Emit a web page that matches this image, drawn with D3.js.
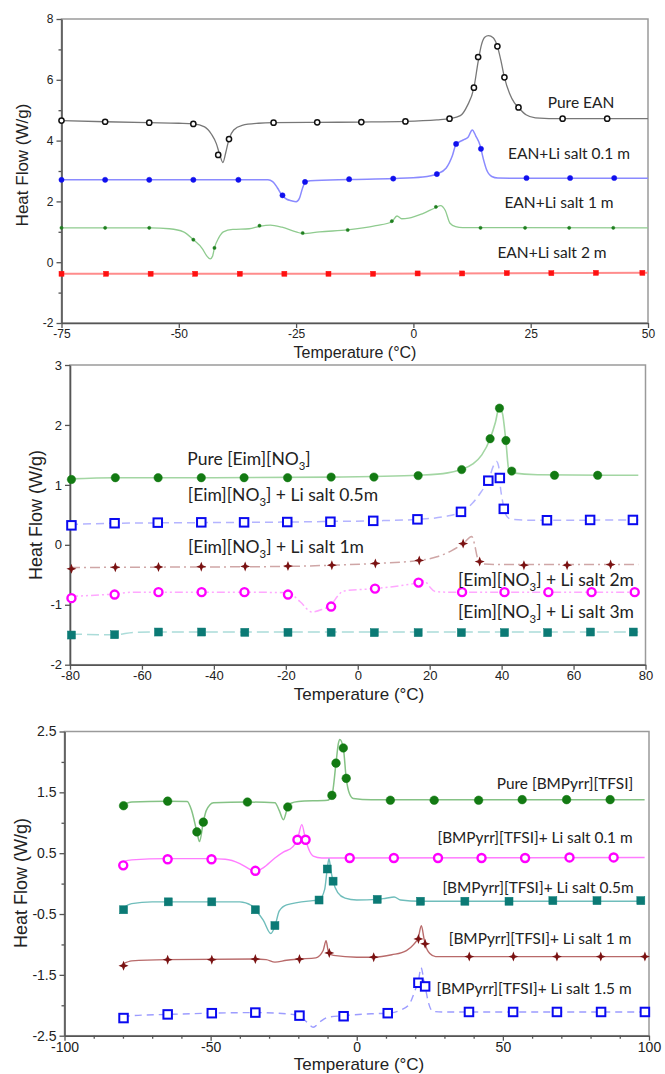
<!DOCTYPE html>
<html>
<head>
<meta charset="utf-8">
<script src="https://cdn.jsdelivr.net/npm/d3@7"></script>
<style>
  body { margin: 0; background: #fff; }
  svg { display: block; }
</style>
</head>
<body>
<script>
// ---------- panel 1 : EAN ----------
const eanPureLine = [[-75,4.66],[-65.7,4.62],[-56.3,4.59],[-50,4.57],[-46.9,4.55],[-44.5,4.45],[-43,4.2],[-42,3.9],[-41.3,3.55],[-40.6,3.28],[-40.0,3.6],[-39.3,4.05],[-38.3,4.35],[-36.5,4.5],[-33,4.57],[-29.8,4.59],[-20.5,4.6],[-11.1,4.61],[-1.7,4.63],[5,4.68],[7.7,4.72],[10,4.82],[11.5,5.15],[12.9,5.74],[13.8,6.6],[14.5,7.15],[15.2,7.4],[16.0,7.45],[17,7.38],[17.9,7.1],[18.7,6.6],[19.4,6.08],[20.5,5.55],[21.5,5.25],[22.4,5.09],[24,4.85],[26,4.75],[31.8,4.72],[50,4.72]]
const eanPureMarks = [[-75,4.66],[-65.7,4.62],[-56.3,4.59],[-46.9,4.55],[-41.6,3.53],[-39.3,4.05],[-29.8,4.59],[-20.5,4.6],[-11.1,4.61],[-1.7,4.63],[7.7,4.72],[12.9,5.74],[13.8,6.75],[17.9,7.1],[19.4,6.08],[22.4,5.09],[31.8,4.72],[41.3,4.72]]
const ean01Line = [[-75,2.71],[-50,2.71],[-31,2.71],[-30,2.65],[-29,2.45],[-28,2.2],[-27,2.07],[-26,2.02],[-25,1.99],[-24.3,2.1],[-23.6,2.45],[-23.1,2.62],[-22,2.68],[-13.7,2.72],[-4.3,2.75],[2,2.8],[5,2.9],[7,3.1],[8.3,3.5],[9.1,3.88],[10.6,4.02],[11.6,4.1],[12.55,4.35],[13.3,4.15],[14.2,3.85],[14.9,3.4],[15.6,3.04],[16.7,2.82],[18,2.77],[24.1,2.76],[50,2.76]]
const ean01Marks = [[-75,2.71],[-65.7,2.71],[-56.3,2.71],[-46.9,2.71],[-37.3,2.71],[-27.9,2.2],[-23.1,2.64],[-13.7,2.73],[-4.3,2.75],[5.0,2.9],[9.1,3.89],[14.4,3.73],[24.1,2.77],[33.4,2.77],[42.8,2.77]]
const ean1Line = [[-75,1.13],[-56,1.13],[-52,1.1],[-49,1.0],[-46.9,0.74],[-45,0.45],[-44,0.2],[-43.3,0.11],[-42.8,0.2],[-42.4,0.47],[-41.5,0.8],[-40.5,1.0],[-38.5,1.08],[-35,1.1],[-32.8,1.18],[-30.5,1.22],[-28,1.15],[-25,1.0],[-23.6,0.94],[-20,1.0],[-14,1.06],[-8,1.2],[-4.6,1.33],[-3.5,1.52],[-2.5,1.43],[-1,1.45],[2,1.6],[4.8,1.8],[5.8,1.86],[6.8,1.7],[7.8,1.28],[9,1.17],[10.5,1.14],[50,1.13]]
const ean1Marks = [[-75,1.13],[-65.7,1.13],[-56.3,1.13],[-46.9,0.74],[-42.4,0.47],[-32.8,1.2],[-23.6,0.96],[-14.0,1.06],[-4.6,1.35],[4.8,1.82],[14.3,1.13],[23.8,1.13],[33.2,1.13],[42.6,1.13]]
const ean2Line = [[-75,-0.38],[-10,-0.38],[50,-0.35]]
const ean2Marks = [[-75,-0.38],[-65.5,-0.38],[-56.0,-0.38],[-46.5,-0.38],[-37.0,-0.38],[-27.5,-0.38],[-18.1,-0.38],[-8.6,-0.38],[0.9,-0.37],[10.4,-0.37],[19.9,-0.36],[29.4,-0.36],[38.9,-0.35],[48.8,-0.35]]
const eanLabels = ["Pure EAN", "EAN+Li salt 0.1 m", "EAN+Li salt 1 m", "EAN+Li salt 2 m"]

// ---------- panel 2 : [Eim][NO3] ----------
const eimPureLine = [[-80,1.1],[-67.4,1.12],[-40,1.12],[-7.4,1.13],[4.5,1.14],[16.8,1.16],[25,1.2],[28.9,1.26],[32,1.35],[34.5,1.5],[36.8,1.77],[38.3,2.05],[39.3,2.29],[40.2,2.2],[41.2,1.72],[42,1.25],[43,1.2],[50,1.17],[78,1.16]]
const eimPureMarks = [[-79.6,1.09],[-67.4,1.12],[-55.5,1.12],[-43.5,1.12],[-31.6,1.12],[-19.5,1.12],[-7.4,1.13],[4.5,1.13],[16.8,1.155],[28.9,1.255],[36.8,1.77],[39.4,2.28],[41.2,1.74],[42.8,1.23],[54.7,1.16],[66.7,1.16]]
const eim05Line = [[-80,0.34],[-67.6,0.36],[-43.5,0.37],[-19.6,0.38],[-7.6,0.39],[4.3,0.4],[16.6,0.425],[24,0.47],[28.7,0.55],[32,0.7],[34.5,0.9],[36.4,1.07],[37.6,1.3],[38.6,1.39],[39.2,1.3],[39.6,1.0],[40.2,0.75],[40.7,0.59],[41.5,0.47],[42.5,0.43],[48,0.41],[78,0.415]]
const eim05Marks = [[-79.6,0.325],[-67.6,0.36],[-55.6,0.37],[-43.5,0.375],[-31.6,0.375],[-19.6,0.38],[-7.6,0.385],[4.3,0.4],[16.6,0.425],[28.7,0.55],[36.3,1.07],[39.5,1.115],[40.6,0.6],[52.6,0.41],[64.6,0.415],[76.5,0.415]]
const eim1Line = [[-80,-0.38],[-67.4,-0.375],[-43.5,-0.37],[-19.4,-0.36],[-7.2,-0.34],[4.9,-0.31],[17.1,-0.26],[22,-0.2],[26,-0.1],[29.3,0.02],[31.7,0.14],[32.5,0.0],[33.2,-0.2],[34,-0.28],[35,-0.32],[40,-0.33],[78,-0.33]]
const eim1Marks = [[-79.6,-0.4],[-67.4,-0.375],[-55.4,-0.37],[-43.5,-0.365],[-31.3,-0.36],[-19.4,-0.355],[-7.2,-0.34],[4.9,-0.31],[17.1,-0.26],[29.3,0.02],[33.9,-0.28],[46.2,-0.34],[58.2,-0.34],[70.3,-0.33]]
const eim2Line = [[-80,-0.86],[-67.6,-0.82],[-62,-0.79],[-31.5,-0.79],[-19.4,-0.8],[-16,-0.95],[-12.8,-1.12],[-10,-1.08],[-7.4,-1.0],[-5.5,-0.85],[-4,-0.77],[4.8,-0.73],[12,-0.68],[16.9,-0.63],[18.5,-0.6],[20,-0.7],[21.5,-0.78],[25,-0.79],[78,-0.79]]
const eim2Marks = [[-79.6,-0.89],[-67.6,-0.83],[-55.4,-0.79],[-43.4,-0.79],[-31.5,-0.79],[-19.4,-0.83],[-7.4,-1.03],[4.8,-0.73],[16.9,-0.63],[29.0,-0.79],[40.8,-0.79],[53.0,-0.79],[65.0,-0.79],[77.0,-0.79]]
const eim3Line = [[-80,-1.49],[-67.6,-1.5],[-62,-1.46],[-55.4,-1.455],[78,-1.455]]
const eim3Marks = [[-79.6,-1.505],[-67.6,-1.5],[-55.4,-1.455],[-43.4,-1.455],[-31.4,-1.46],[-19.4,-1.46],[-7.4,-1.46],[4.6,-1.465],[16.8,-1.465],[28.8,-1.465],[40.8,-1.465],[52.8,-1.465],[64.7,-1.455],[76.6,-1.455]]
const eimLabels = ["Pure [Eim][NO_3]", "[Eim][NO_3] + Li salt 0.5m", "[Eim][NO_3] + Li salt 1m", "[Eim][NO_3] + Li salt 2m", "[Eim][NO_3] + Li salt 3m"]

// ---------- panel 3 : [BMPyrr][TFSI] ----------
const bmpPureLine = [[-80,1.3],[-77,1.34],[-65,1.355],[-58,1.35],[-56.5,1.2],[-54.7,0.85],[-53.8,0.69],[-52.5,1.01],[-51.5,1.2],[-49,1.33],[-37.4,1.34],[-28,1.33],[-26.5,1.2],[-25.1,1.05],[-23.6,1.26],[-22.5,1.32],[-20,1.35],[-10,1.37],[-8.5,1.45],[-7.1,1.98],[-6.3,2.3],[-5.8,2.37],[-4.6,2.23],[-3.6,1.73],[-2.5,1.48],[-1.2,1.4],[5,1.38],[98.5,1.38]]
const bmpPureMarks = [[-79.8,1.28],[-64.7,1.355],[-54.7,0.85],[-52.5,1.01],[-37.4,1.34],[-23.6,1.26],[-8.5,1.45],[-7.1,1.98],[-4.6,2.23],[-3.6,1.73],[11.5,1.37],[26.5,1.37],[41.7,1.37],[56.6,1.38],[71.8,1.38],[86.7,1.38]]
const bmp01Line = [[-80,0.36],[-77,0.39],[-65,0.41],[-50,0.41],[-45,0.4],[-40,0.33],[-36,0.22],[-34.7,0.2],[-32,0.26],[-28,0.42],[-25,0.52],[-22,0.6],[-20.3,0.72],[-18.8,0.97],[-17.5,0.72],[-16,0.52],[-14.9,0.45],[-12,0.42],[98.5,0.43]]
const bmp01Marks = [[-79.9,0.3],[-64.7,0.4],[-49.7,0.4],[-34.7,0.21],[-20.3,0.72],[-17.5,0.72],[-2.4,0.42],[12.7,0.42],[27.8,0.42],[42.7,0.42],[57.6,0.42],[72.8,0.43],[87.9,0.43]]
const bmp05Line = [[-80,-0.4],[-77,-0.33],[-70,-0.3],[-40,-0.3],[-36,-0.36],[-34.7,-0.43],[-32,-0.6],[-29.4,-0.82],[-28,-0.7],[-26.5,-0.45],[-24,-0.35],[-15,-0.28],[-12.9,-0.27],[-11,-0.1],[-10.1,0.24],[-9.5,0.41],[-8.8,0.2],[-8.1,0.04],[-6.5,-0.15],[-4,-0.24],[0,-0.27],[7,-0.26],[10,-0.24],[12.8,-0.22],[15,-0.27],[21.8,-0.29],[98.5,-0.29]]
const bmp05Marks = [[-79.8,-0.43],[-64.5,-0.3],[-49.6,-0.3],[-34.7,-0.43],[-28.0,-0.69],[-12.9,-0.27],[-10.1,0.24],[-8.1,0.04],[7.0,-0.26],[21.8,-0.29],[37.0,-0.29],[52.1,-0.29],[67.1,-0.28],[82.2,-0.28],[97.2,-0.28]]
const bmp1Line = [[-80,-1.32],[-77,-1.27],[-65,-1.25],[-35,-1.24],[-31,-1.25],[-28,-1.29],[-24,-1.26],[-19.6,-1.24],[-14,-1.22],[-11.5,-1.1],[-10.5,-0.94],[-9.8,-1.1],[-9.4,-1.14],[-8,-1.18],[0,-1.21],[5.8,-1.21],[12,-1.17],[17,-1.1],[19.5,-1.0],[21.1,-0.88],[22.1,-0.69],[23,-0.9],[23.4,-0.99],[25,-1.15],[27,-1.2],[98.5,-1.2]]
const bmp1Marks = [[-79.8,-1.35],[-64.7,-1.25],[-49.6,-1.25],[-34.7,-1.24],[-19.6,-1.24],[-9.4,-1.14],[5.8,-1.21],[21.1,-0.91],[23.4,-0.99],[38.5,-1.2],[53.6,-1.2],[68.5,-1.2],[83.5,-1.2],[98.6,-1.2]]
const bmp15Line = [[-80,-2.2],[-77,-2.17],[-64.7,-2.15],[-49.6,-2.13],[-34.7,-2.12],[-22,-2.15],[-19.6,-2.17],[-17,-2.28],[-14.9,-2.36],[-12.5,-2.27],[-10,-2.2],[-4.5,-2.17],[5,-2.14],[10.6,-2.13],[15,-2.08],[18,-1.98],[20,-1.75],[21.1,-1.6],[22,-1.38],[23,-1.6],[23.4,-1.69],[24.5,-1.95],[26,-2.1],[30,-2.11],[98.5,-2.11]]
const bmp15Marks = [[-79.8,-2.21],[-64.7,-2.15],[-49.6,-2.13],[-34.7,-2.12],[-19.6,-2.17],[-4.5,-2.18],[10.6,-2.13],[21.1,-1.63],[23.4,-1.69],[38.4,-2.11],[53.5,-2.11],[68.5,-2.11],[83.6,-2.11],[98.6,-2.11]]
const bmpLabels = ["Pure [BMPyrr][TFSI]", "[BMPyrr][TFSI]+ Li salt 0.1 m", "[BMPyrr][TFSI]+ Li salt 0.5m", "[BMPyrr][TFSI]+ Li salt 1 m", "[BMPyrr][TFSI]+ Li salt 1.5 m"]

// axis ticks
const p1XTicks = [-75, -50, -25, 0, 25, 50]
const p1YTicks = [-2, 0, 2, 4, 6, 8]
const p1YMinor = [-1, 1, 3, 5, 7]
const p2XTicks = [-80, -60, -40, -20, 0, 20, 40, 60, 80]
const p2YTicks = [-2, -1, 0, 1, 2, 3]
const p3XTicks = [-100, -50, 0, 50, 100]
const p3XMinor = [-90, -80, -70, -60, -40, -30, -20, -10, 10, 20, 30, 40, 60, 70, 80, 90]
const p3YTicks = [-2.5, -1.5, -0.5, 0.5, 1.5, 2.5]
const p3YMinor = [-2, -1, 0, 1, 2]

const width = 665, height = 1074

const svg = d3.select("body").append("svg")
    .attr("width", width)
    .attr("height", height)

// 4 pointed star used for the cross markers
const star4 = {
    draw(ctx, size) {
        const r = Math.sqrt(size), i = r * 0.28
        ctx.moveTo(0, -r); ctx.lineTo(i, -i); ctx.lineTo(r, 0); ctx.lineTo(i, i)
        ctx.lineTo(0, r); ctx.lineTo(-i, i); ctx.lineTo(-r, 0); ctx.lineTo(-i, -i)
        ctx.closePath()
    }
}

function addLabel(g, txt, x, y, size) {
    let t = g.append("text")
        .attr("x", x).attr("y", y + size * 0.35)
        .attr("text-anchor", "middle")
        .style("font-family", "Lato, 'Open Sans', sans-serif")
        .style("font-size", size + "px")
        .style("fill", "#222")
    let parts = txt.split(/_(\d)/)
    parts.forEach(function(p, k) {
        if (k % 2 == 1) {
            t.append("tspan").attr("dy", size * 0.3).style("font-size", (size * 0.65) + "px").text(p)
        } else {
            t.append("tspan").attr("dy", k > 0 ? -size * 0.3 : 0).text(p)
        }
    })
}

function drawPanel(p) {
    let g = svg.append("g")
    let x = d3.scaleLinear().domain(p.xDomain).range([p.left, p.right])
    let y = d3.scaleLinear().domain(p.yDomain).range([p.bottom, p.top])

    g.append("rect")
        .attr("x", p.left).attr("y", p.top)
        .attr("width", p.right - p.left).attr("height", p.bottom - p.top)
        .attr("fill", "none").attr("stroke", "#9a9a9a").attr("stroke-width", 1.5)

    // axes
    let xAxis = g.append("g").attr("transform", "translate(0," + p.bottom + ")")
        .call(d3.axisBottom(x).tickValues(p.xTicks).tickSize(5).tickSizeOuter(0).tickFormat(d => String(d)))
    if (p.xMinor) {
        g.append("g").attr("transform", "translate(0," + p.bottom + ")")
            .call(d3.axisBottom(x).tickValues(p.xMinor).tickSize(3).tickSizeOuter(0).tickFormat(""))
            .select(".domain").remove()
    }
    g.append("g").attr("transform", "translate(" + p.left + ",0)")
        .call(d3.axisLeft(y).tickValues(p.yTicks).tickSize(5).tickSizeOuter(0).tickFormat(d => String(d)))
    if (p.yMinor) {
        g.append("g").attr("transform", "translate(" + p.left + ",0)")
            .call(d3.axisLeft(y).tickValues(p.yMinor).tickSize(3).tickSizeOuter(0).tickFormat(""))
            .select(".domain").remove()
    }
    g.selectAll(".domain").attr("stroke", "#555").attr("stroke-width", 1.6)
    g.selectAll(".tick line").attr("stroke", "#555").attr("stroke-width", 1.3)
    g.selectAll(".tick text")
        .style("font-family", "'Liberation Sans', Arial, sans-serif")
        .style("font-size", p.tickFont + "px")
        .style("fill", "#222")
    xAxis.selectAll(".tick text").attr("y", 6)

    // axis titles
    g.append("text")
        .attr("x", p.xTitlePos[0]).attr("y", p.xTitlePos[1])
        .attr("text-anchor", "middle").attr("dominant-baseline", "central")
        .style("font-family", "'Liberation Sans', Arial, sans-serif")
        .style("font-size", p.titleFont + "px").style("fill", "#222")
        .text("Temperature (°C)")
    g.append("text")
        .attr("transform", "translate(" + p.yTitlePos[0] + "," + p.yTitlePos[1] + ") rotate(-90)")
        .attr("text-anchor", "middle").attr("dominant-baseline", "central")
        .style("font-family", "'Liberation Sans', Arial, sans-serif")
        .style("font-size", p.yTitleFont + "px").style("fill", "#222")
        .text("Heat Flow (W/g)")

    let line = d3.line()
        .x(d => x(d[0]))
        .y(d => y(d[1]))
        .curve(d3.curveMonotoneX)

    p.series.forEach(function(s) {
        g.append("path")
            .attr("d", line(s.line))
            .attr("fill", "none")
            .attr("stroke", s.lineColor)
            .attr("stroke-width", s.lineWidth || 1.4)
            .attr("stroke-dasharray", s.dash || null)

        let m = g.append("g")
        s.marks.forEach(function(d) {
            let cx = x(d[0]), cy = y(d[1])
            if (s.shape == "circle") {
                m.append("circle").attr("cx", cx).attr("cy", cy).attr("r", s.size)
                    .attr("fill", s.open ? "#fff" : s.color)
                    .attr("stroke", s.color).attr("stroke-width", s.open ? s.sw : 0.5)
            } else if (s.shape == "square") {
                m.append("rect").attr("x", cx - s.size / 2).attr("y", cy - s.size / 2)
                    .attr("width", s.size).attr("height", s.size)
                    .attr("fill", s.open ? "#fff" : s.color)
                    .attr("stroke", s.color).attr("stroke-width", s.open ? s.sw : 0.5)
            } else {
                m.append("path")
                    .attr("d", d3.symbol(star4, s.size * s.size)())
                    .attr("transform", "translate(" + cx + "," + cy + ")")
                    .attr("fill", s.color)
            }
        })
    })

    p.labels.forEach(function(l) {
        addLabel(g, l.text, l.x, l.y, p.labelFont)
    })
}

drawPanel({
    xDomain: [-75, 50], yDomain: [-2, 8],
    left: 61.5, right: 648, top: 19, bottom: 323,
    xTicks: p1XTicks, yTicks: p1YTicks, yMinor: p1YMinor,
    tickFont: 12, titleFont: 16, yTitleFont: 17, labelFont: 15.5,
    xTitlePos: [355, 352], yTitlePos: [22, 165],
    series: [
        { line: eanPureLine, marks: eanPureMarks, lineColor: "#777", color: "#111", shape: "circle", open: true, size: 2.6, sw: 1.5, lineWidth: 1.3 },
        { line: ean01Line, marks: ean01Marks, lineColor: "#8a8aff", color: "#1010ee", shape: "circle", size: 2.6, lineWidth: 1.5 },
        { line: ean1Line, marks: ean1Marks, lineColor: "#8fcb8f", color: "#1f7f1f", shape: "circle", size: 1.6, lineWidth: 1.3 },
        { line: ean2Line, marks: ean2Marks, lineColor: "#ff8c8c", color: "#ff1010", shape: "square", size: 5, lineWidth: 2 }
    ],
    labels: [
        { text: eanLabels[0], x: 581, y: 103 },
        { text: eanLabels[1], x: 569, y: 154 },
        { text: eanLabels[2], x: 559, y: 203 },
        { text: eanLabels[3], x: 552, y: 253 }
    ]
})

drawPanel({
    xDomain: [-80, 80], yDomain: [-2, 3],
    left: 70, right: 645.5, top: 365, bottom: 664.7,
    xTicks: p2XTicks, yTicks: p2YTicks,
    tickFont: 13, titleFont: 17, yTitleFont: 18, labelFont: 17.5,
    xTitlePos: [359, 694], yTitlePos: [36, 515],
    series: [
        { line: eimPureLine, marks: eimPureMarks, lineColor: "#a3d6a3", color: "#137a13", shape: "circle", size: 4.2, lineWidth: 1.6 },
        { line: eim05Line, marks: eim05Marks, lineColor: "#b4b4ff", color: "#0a0af0", shape: "square", open: true, size: 8.5, sw: 2, dash: "8,5", lineWidth: 1.5 },
        { line: eim1Line, marks: eim1Marks, lineColor: "#cfa6a6", color: "#7a1212", shape: "star", size: 5, dash: "10,4,2,4", lineWidth: 1.5 },
        { line: eim2Line, marks: eim2Marks, lineColor: "#ffa8ff", color: "#ff00ff", shape: "circle", open: true, size: 4, sw: 2.4, dash: "8,3,2,3,2,3", lineWidth: 1.5 },
        { line: eim3Line, marks: eim3Marks, lineColor: "#abdcd9", color: "#0b7a75", shape: "square", size: 8, dash: "12,5", lineWidth: 1.5 }
    ],
    labels: [
        { text: eimLabels[0], x: 249, y: 459 },
        { text: eimLabels[1], x: 283, y: 495 },
        { text: eimLabels[2], x: 276, y: 547 },
        { text: eimLabels[3], x: 546, y: 580 },
        { text: eimLabels[4], x: 546, y: 612 }
    ]
})

drawPanel({
    xDomain: [-100, 100], yDomain: [-2.5, 2.5],
    left: 64.5, right: 649, top: 731.5, bottom: 1035.7,
    xTicks: p3XTicks, xMinor: p3XMinor, yTicks: p3YTicks, yMinor: p3YMinor,
    tickFont: 14, titleFont: 17, yTitleFont: 18, labelFont: 15.4,
    xTitlePos: [359, 1064], yTitlePos: [21, 883],
    series: [
        { line: bmpPureLine, marks: bmpPureMarks, lineColor: "#85c285", color: "#137a13", shape: "circle", size: 4.3, lineWidth: 1.5 },
        { line: bmp01Line, marks: bmp01Marks, lineColor: "#ff7cff", color: "#ff00ff", shape: "circle", open: true, size: 4, sw: 2.4, lineWidth: 1.4 },
        { line: bmp05Line, marks: bmp05Marks, lineColor: "#6fbdbb", color: "#0b7a75", shape: "square", size: 8, lineWidth: 1.4 },
        { line: bmp1Line, marks: bmp1Marks, lineColor: "#b86a6a", color: "#7a1212", shape: "star", size: 5, lineWidth: 1.4 },
        { line: bmp15Line, marks: bmp15Marks, lineColor: "#9c9cff", color: "#0a0af0", shape: "square", open: true, size: 8.5, sw: 2, dash: "7,5", lineWidth: 1.4 }
    ],
    labels: [
        { text: bmpLabels[0], x: 565, y: 784 },
        { text: bmpLabels[1], x: 535, y: 838 },
        { text: bmpLabels[2], x: 538, y: 888 },
        { text: bmpLabels[3], x: 540, y: 939 },
        { text: bmpLabels[4], x: 534, y: 989 }
    ]
})
</script>
</body>
</html>
